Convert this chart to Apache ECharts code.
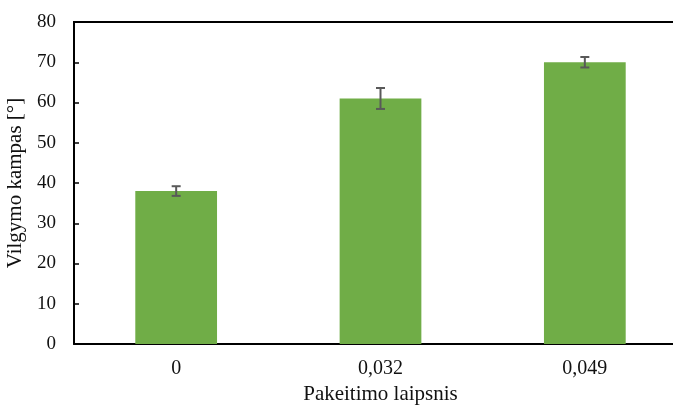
<!DOCTYPE html>
<html><head><meta charset="utf-8">
<script src="https://cdn.jsdelivr.net/npm/echarts@6/dist/echarts.min.js"></script>
<style>html,body{margin:0;padding:0;background:#fff}#c{width:673px;height:406px}</style>
</head><body><div id="c"></div>
<script>
const categories = ['0', '0,032', '0,049'];
const values = [38, 61, 70];
const errors = [1.2, 2.6, 1.3];
const yTicks = { min: 0, max: 80, interval: 10 };

const chart = echarts.init(document.getElementById('c'), null, { renderer: 'canvas' });
const font = 'Liberation Serif';
const errData = values.map((v, i) => [i, v - errors[i], v + errors[i]]);
chart.setOption({
  animation: false,
  grid: { left: 74, right: -14, top: 22, bottom: 62, containLabel: false, outerBoundsMode: 'none' },
  xAxis: {
    type: 'category', data: categories,
    axisLine: { show: true, lineStyle: { color: '#000', width: 2 } },
    axisTick: { show: false },
    axisLabel: { fontFamily: font, fontSize: 20, color: '#111', margin: 15 },
    name: 'Pakeitimo laipsnis', nameLocation: 'middle', nameGap: 40,
    nameTextStyle: { fontFamily: font, fontSize: 21, color: '#111' }
  },
  yAxis: {
    type: 'value', min: yTicks.min, max: yTicks.max, interval: yTicks.interval,
    splitLine: { show: false },
    axisLine: { show: true, lineStyle: { color: '#000', width: 2 } },
    axisTick: { show: true, inside: true, length: 5, lineStyle: { color: '#000', width: 1.5 } },
    axisLabel: { fontFamily: font, fontSize: 19, color: '#111', margin: 18 },
    name: 'Vilgymo kampas [°]', nameLocation: 'middle', nameGap: 45,
    nameTextStyle: { fontFamily: font, fontSize: 21, color: '#111' }
  },
  series: [
    { type: 'bar', data: values, barWidth: '40%', itemStyle: { color: '#70AD47' } },
    {
      type: 'custom', data: errData, z: 10,
      renderItem: function (params, api) {
        const x = api.value(0);
        const lo = api.coord([x, api.value(1)]);
        const hi = api.coord([x, api.value(2)]);
        const w = 4.5;
        const st = { stroke: '#595959', lineWidth: 2 };
        return { type: 'group', children: [
          { type: 'line', shape: { x1: lo[0], y1: lo[1], x2: hi[0], y2: hi[1] }, style: st },
          { type: 'line', shape: { x1: lo[0] - w, y1: lo[1], x2: lo[0] + w, y2: lo[1] }, style: st },
          { type: 'line', shape: { x1: hi[0] - w, y1: hi[1], x2: hi[0] + w, y2: hi[1] }, style: st }
        ]};
      }
    }
  ],
  graphic: [
    { type: 'line', shape: { x1: 73, y1: 22, x2: 673, y2: 22 }, style: { stroke: '#000', lineWidth: 2 } }
  ]
});
</script></body></html>
